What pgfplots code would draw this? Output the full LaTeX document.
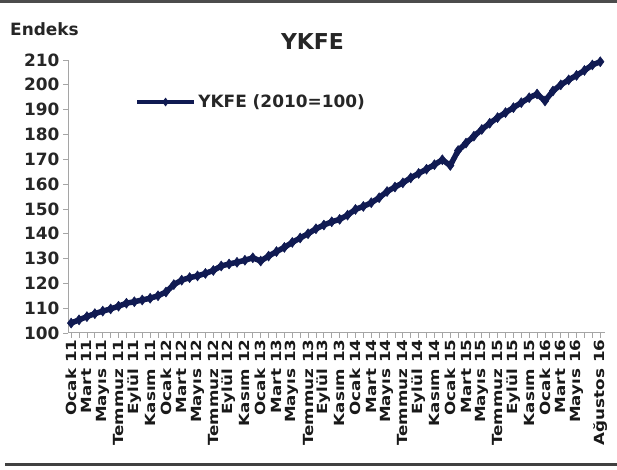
\documentclass[border=0pt]{standalone}
\usepackage{pgfplots}
\pgfplotsset{compat=1.18}
\usepackage{pgfplotstable}
\usepackage{fontspec}
\setmainfont{DejaVu Sans}
\newfontfamily\xfont[FakeStretch=1.2]{DejaVu Sans}
\definecolor{navy}{RGB}{16,26,82}
\definecolor{axgray}{RGB}{165,165,165}

\pgfplotstableread{
i v
0 104.0
1 105.3
2 106.6
3 107.8
4 108.8
5 109.7
6 110.8
7 112.0
8 112.6
9 113.3
10 114.0
11 115.0
12 116.5
13 119.5
14 121.3
15 122.3
16 123.0
17 124.0
18 125.2
19 127.0
20 127.8
21 128.5
22 129.3
23 130.3
24 129.0
25 131.0
26 132.8
27 134.5
28 136.5
29 138.3
30 140.0
31 142.0
32 143.5
33 144.8
34 145.8
35 147.5
36 149.8
37 151.0
38 152.5
39 154.5
40 157.0
41 158.8
42 160.5
43 162.5
44 164.3
45 166.0
46 167.8
47 169.8
48 167.5
49 173.5
50 176.5
51 179.3
52 182.0
53 184.5
54 186.8
55 188.8
56 190.8
57 192.8
58 194.8
59 196.3
60 193.5
61 197.5
62 200.0
63 202.0
64 203.8
65 205.8
66 208.0
67 209.3
}\ykfe

\begin{document}
\begin{tikzpicture}[x=1bp,y=1bp]
\useasboundingbox (0,0) rectangle (617,470);
\fill[black!70] (0,467) rectangle (617,470);
\draw[black!75, line width=3bp] (5,5) -- (617,5);
\node[anchor=base west, inner sep=0pt, font=\fontsize{17}{17}\selectfont\bfseries, text=black!85] at (10,434) {Endeks};
\node[anchor=base, inner sep=0pt, font=\fontsize{22}{22}\selectfont\bfseries, text=black!85] at (312.5,420) {YKFE};
\begin{axis}[
  at={(68bp,137bp)}, anchor=south west,
  scale only axis, width=537bp, height=273bp,
  xmin=-0.4, xmax=67.6, ymin=100, ymax=210,
  axis lines=left, axis line style={-, draw=axgray, line width=1bp},
  ytick={100,110,...,210},
  yticklabel style={font=\fontsize{17}{17}\selectfont\bfseries, text=black!85},
  /pgf/number format/assume math mode=true,
  xtick={0,2,...,64,67},
  xticklabels={Ocak 11, Mart 11, Mayıs 11, Temmuz 11, Eylül 11, Kasım 11,
               Ocak 12, Mart 12, Mayıs 12, Temmuz 12, Eylül 12, Kasım 12,
               Ocak 13, Mart 13, Mayıs 13, Temmuz 13, Eylül 13, Kasım 13,
               Ocak 14, Mart 14, Mayıs 14, Temmuz 14, Eylül 14, Kasım 14,
               Ocak 15, Mart 15, Mayıs 15, Temmuz 15, Eylül 15, Kasım 15,
               Ocak 16, Mart 16, Mayıs 16, Ağustos 16},
  minor xtick={0,...,67},
  tick align=outside, major tick length=5bp, minor tick length=5bp,
  tick style={draw=axgray, line width=0.8bp},
  x tick label style={rotate=90, anchor=east, inner sep=1.5bp, font=\xfont\fontsize{14}{14}\selectfont\bfseries, text=black!90},
  legend style={at={(0.125,0.846)}, anchor=west, draw=none, fill=none,
    inner sep=0pt, font=\fontsize{17}{17}\selectfont\bfseries, text=black!85,
    nodes={inner sep=2.5bp}},
  legend image code/.code={\draw[mark repeat=2,mark phase=2, line width=3.5bp, mark size=4bp] plot coordinates {(0bp,0bp) (28.5bp,0bp) (57bp,0bp)};},
]
\addplot[navy, line width=5.5bp, mark=diamond*, mark size=5bp, mark options={solid, fill=navy, line width=0.5bp}] table[x=i, y=v] {\ykfe};
\addlegendentry{YKFE (2010=100)}
\end{axis}
\end{tikzpicture}
\end{document}
